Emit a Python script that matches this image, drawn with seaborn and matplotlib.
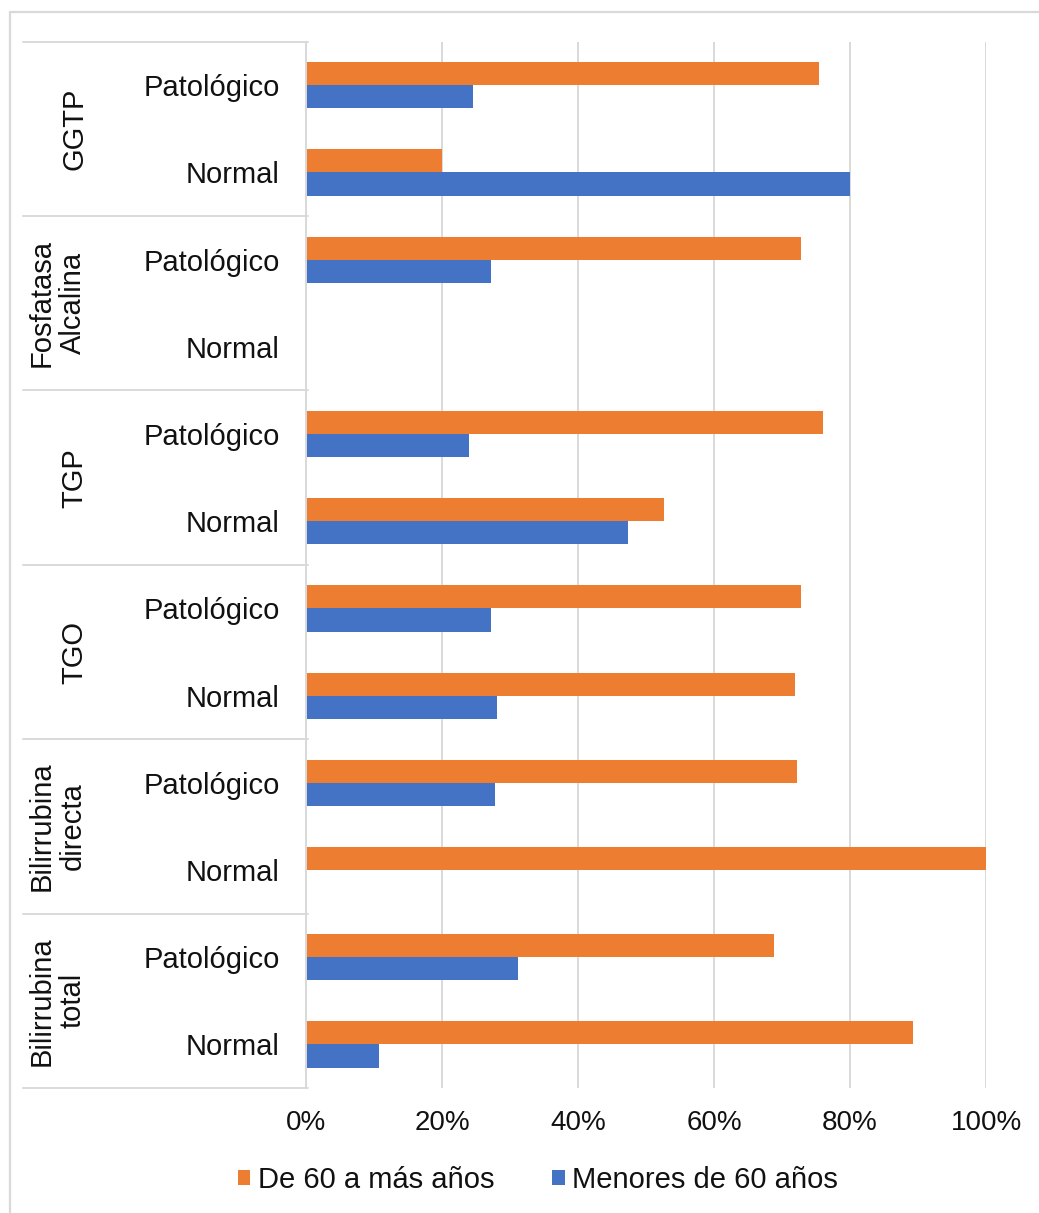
import matplotlib
matplotlib.use("Agg")
import matplotlib.pyplot as plt
from matplotlib.patches import Patch
from matplotlib.lines import Line2D
from matplotlib.ticker import PercentFormatter
from matplotlib.transforms import blended_transform_factory
import seaborn as sns
import pandas as pd

# Liver function markers, each split into pathological / normal results
grupos = ["GGTP", "Fosfatasa\nAlcalina", "TGP", "TGO", "Bilirrubina\ndirecta", "Bilirrubina\ntotal"]
resultados = ["Patológico", "Normal"]
series = ["De 60 a más años", "Menores de 60 años"]

# Percentages per row (group x result), top to bottom
de_60_a_mas = [75.5, 20.0, 72.8, 0.0, 76.1, 52.6, 72.8, 71.9, 72.2, 100.0, 68.8, 89.2]
menores_60 = [24.5, 80.0, 27.2, 0.0, 24.0, 47.4, 27.2, 28.1, 27.8, 0.0, 31.2, 10.8]

xticks = [0, 20, 40, 60, 80, 100]

colores = {"De 60 a más años": "#ED7D31", "Menores de 60 años": "#4472C4"}
gris = "#D9D9D9"
texto = "#111111"

# Long-format table for seaborn
filas = [f"{g} | {r}" for g in grupos for r in resultados]
etiquetas = [r for g in grupos for r in resultados]
df = pd.DataFrame({
    "fila": filas * 2,
    "porcentaje": de_60_a_mas + menores_60,
    "edad": [series[0]] * len(filas) + [series[1]] * len(filas),
})

sns.set_theme(style="white")
plt.rcParams["font.family"] = ["Liberation Sans", "DejaVu Sans"]

W, H = 1039, 1213
fig = plt.figure(figsize=(W / 100, H / 100), dpi=100)
ax = fig.add_axes([306 / W, 1 - 1088 / H, (986 - 306) / W, (1088 - 41.7) / H])

sns.barplot(data=df, y="fila", x="porcentaje", hue="edad", order=filas,
            hue_order=series, palette=colores, orient="h", width=0.53,
            saturation=1, errorbar=None, linewidth=0, legend=False, ax=ax)

ax.set_xlim(0, 100)
ax.set_xticks(xticks)
ax.xaxis.set_major_formatter(PercentFormatter(decimals=0))
ax.set_yticks(range(len(filas)))
ax.set_yticklabels(etiquetas)
ax.set_xlabel("")
ax.set_ylabel("")
ax.tick_params(axis="both", length=0, colors=texto)
ax.tick_params(axis="y", pad=19, labelsize=21)
ax.tick_params(axis="x", pad=16, labelsize=20)

ax.grid(axis="x", color=gris, linewidth=1.4)
ax.set_axisbelow(True)
for s in ["top", "right", "bottom"]:
    ax.spines[s].set_visible(False)
ax.spines["left"].set_color(gris)
ax.spines["left"].set_linewidth(1.4)

# Group boxes on the category axis: separators and rotated group names
tr = blended_transform_factory(fig.transFigure, ax.transData)
for k in range(len(grupos) + 1):
    yb = 2 * k - 0.5
    ax.add_line(Line2D([23 / W, 308 / W], [yb, yb], transform=tr,
                       color=gris, linewidth=1.4, clip_on=False))
for i, g in enumerate(grupos):
    xpos = 57 if "\n" in g else 74
    ax.text(xpos / W, 2 * i + 0.5, g, transform=tr, rotation=90,
            ha="center", va="center", multialignment="center",
            fontsize=21, color=texto, linespacing=1.15)

# Chart area border (top and left edges)
fig.add_artist(Line2D([10 / W, 1], [1 - 12 / H, 1 - 12 / H], transform=fig.transFigure,
                      color=gris, linewidth=1.6))
fig.add_artist(Line2D([10 / W, 10 / W], [0, 1 - 12 / H], transform=fig.transFigure,
                      color=gris, linewidth=1.6))

handles = [Patch(facecolor=colores[s], edgecolor="none", label=s) for s in series]
fig.legend(handles=handles, loc="center", bbox_to_anchor=(538 / W, 1 - 1180 / H),
           ncol=2, frameon=False, fontsize=21, handlelength=0.42, handleheight=0.42,
           handletextpad=0.25, columnspacing=2.0, labelcolor=texto)

fig.savefig("out.png", dpi=100, facecolor="white")
